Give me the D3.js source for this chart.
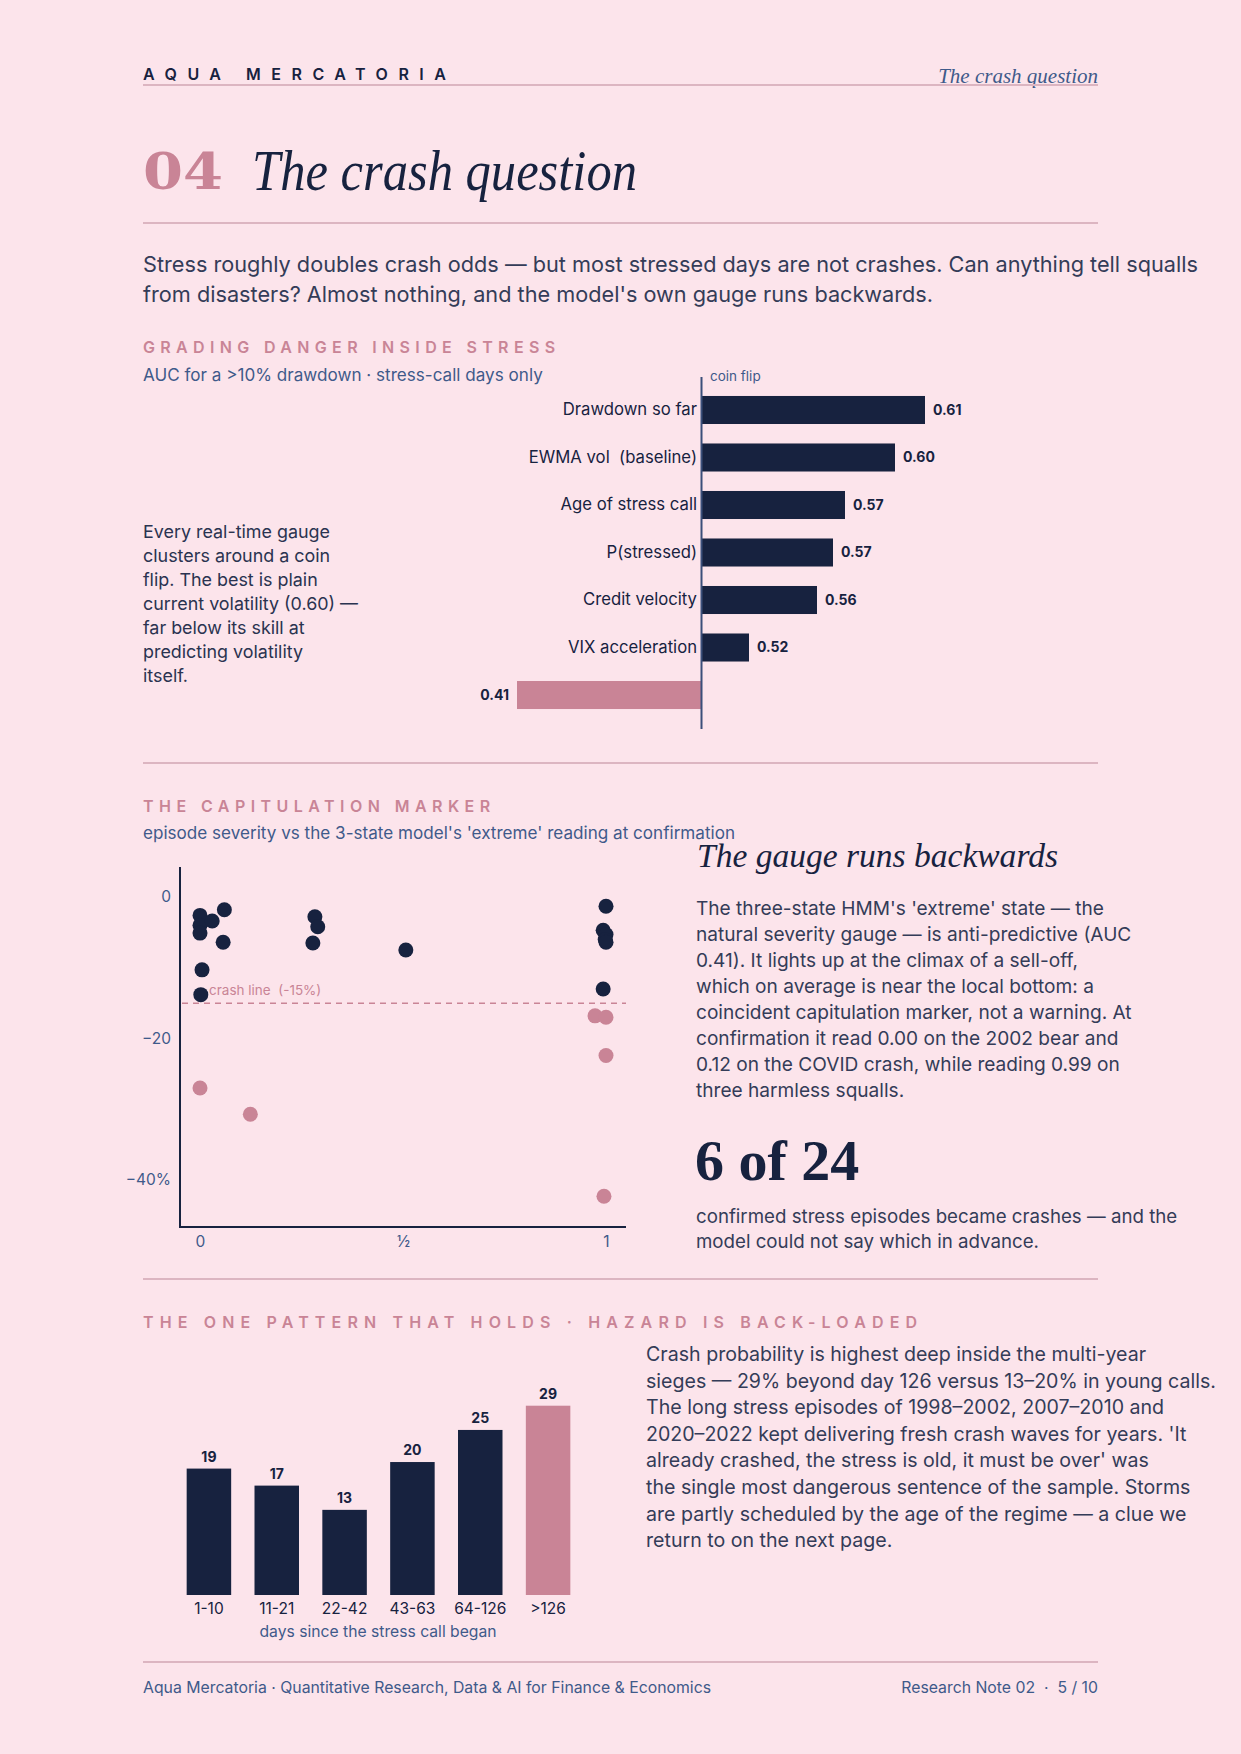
<!DOCTYPE html>
<html>
<head>
<meta charset="utf-8">
<script src="https://cdn.jsdelivr.net/npm/d3@7"></script>
<style>
  body { margin: 0; background: #fce4eb; }
  svg { display: block; font-family: Inter, "Noto Sans", sans-serif; }
</style>
</head>
<body>
<svg id="page" width="1241" height="1754"></svg>
<script>
// ---- data ----
var aucLabels = ['Drawdown so far', 'EWMA vol  (baseline)', 'Age of stress call', 'P(stressed)', 'Credit velocity', 'VIX acceleration', ''];
var aucValues = [0.612, 0.597, 0.572, 0.566, 0.558, 0.524, 0.408];

// 'extreme' state reading at confirmation vs episode severity (%)
var extremeReading = [0.00, 0.00, 0.00, 0.03, 0.06, 0.057, 0.005, 0.002, 0.283, 0.29, 0.278, 0.507, 1.00, 0.993, 1.00, 0.998, 1.00, 0.993,
                      0.973, 1.00, 1.00, 0.00, 0.124, 0.995];
var severity = [-2.6, -4.0, -5.1, -3.4, -1.8, -6.4, -10.3, -13.8, -2.8, -4.2, -6.5, -7.5, -1.3, -4.7, -5.3, -6.0, -6.4, -13.0,
                -16.8, -17.0, -22.4, -27.0, -30.7, -42.3];
var crashLine = -15;
var sevTicks = [0, -20, -40];
var sevTickLabels = ['0', '\u221220', '\u221240%'];
var readTicks = [0, 0.5, 1];
var readTickLabels = ['0', '\u00bd', '1'];

var ageBuckets = ['1-10', '11-21', '22-42', '43-63', '64-126', '>126'];
var crashProb = [19.3, 16.7, 13.0, 20.3, 25.2, 28.9];

var navy = '#17223f', pink = '#c98496', blue = '#3f5a8a', ink = '#343c58', rule = '#dcb5c1';
var serif = '"Liberation Serif", "DejaVu Serif", serif';

var svg = d3.select('#page');
svg.append('rect').attr('width', 1241).attr('height', 1754).attr('fill', '#fce4eb');

function hline(y) {
    svg.append('line').attr('x1', 143).attr('x2', 1098).attr('y1', y).attr('y2', y)
        .attr('stroke', rule).attr('stroke-width', 2);
}

function lines(x, y0, dy, arr, size, color) {
    arr.forEach((t, i) => {
        svg.append('text').attr('x', x).attr('y', y0 + i * dy)
            .attr('font-size', size).attr('fill', color).text(t);
    });
}

function kicker(y, t, ls) {
    svg.append('text').attr('x', 143).attr('y', y)
        .attr('font-size', 16).attr('font-weight', 600)
        .attr('letter-spacing', ls).attr('fill', pink).text(t);
}

// ---- header ----
svg.append('text').attr('x', 143).attr('y', 80)
    .attr('font-size', 16).attr('font-weight', 600).attr('letter-spacing', 10.5)
    .attr('fill', navy).text('AQUA MERCATORIA');
svg.append('text').attr('x', 1098).attr('y', 83).attr('text-anchor', 'end')
    .style('font-family', serif).style('font-style', 'italic')
    .attr('font-size', 21).attr('fill', blue).text('The crash question');
hline(85);

svg.append('text').attr('x', 143).attr('y', 189)
    .style('font-family', '"DejaVu Serif", serif').attr('font-weight', 'bold')
    .attr('font-size', 50).attr('fill', pink)
    .attr('textLength', 80).attr('lengthAdjust', 'spacingAndGlyphs').text('04');
svg.append('text').attr('x', 252).attr('y', 190)
    .style('font-family', serif).style('font-style', 'italic')
    .attr('font-size', 57).attr('fill', navy)
    .attr('textLength', 385).attr('lengthAdjust', 'spacingAndGlyphs').text('The crash question');
hline(223);

lines(143, 272, 30, [
    'Stress roughly doubles crash odds \u2014 but most stressed days are not crashes. Can anything tell squalls',
    "from disasters? Almost nothing, and the model's own gauge runs backwards."
], 21.7, ink);

// ---- section 1: AUC bars ----
kicker(353, 'GRADING DANGER INSIDE STRESS', 5.35);
svg.append('text').attr('x', 143).attr('y', 381).attr('font-size', 17.1).attr('fill', blue)
    .text('AUC for a >10% drawdown \u00b7 stress-call days only');

var x1 = d3.scaleLinear().domain([0.40, 0.65]).range([501, 1001]);
var y1 = d3.scaleBand().domain(d3.range(aucLabels.length)).range([376.5, 728.5]).padding(0.41);

var g1 = svg.append('g');
g1.selectAll('rect').data(aucValues).enter().append('rect')
    .attr('x', d => Math.min(x1(d), x1(0.5)))
    .attr('y', (d, i) => y1(i))
    .attr('width', d => Math.abs(x1(d) - x1(0.5)))
    .attr('height', y1.bandwidth())
    .attr('fill', d => d < 0.5 ? pink : navy);

g1.selectAll('.val').data(aucValues).enter().append('text')
    .attr('class', 'val')
    .attr('x', d => d < 0.5 ? x1(d) - 8 : x1(d) + 8)
    .attr('y', (d, i) => y1(i) + y1.bandwidth() / 2)
    .attr('dy', '0.35em')
    .attr('text-anchor', d => d < 0.5 ? 'end' : 'start')
    .attr('font-size', 14).attr('font-weight', 700).attr('fill', navy)
    .text(d => d.toFixed(2));

var ax1 = g1.append('g').attr('transform', 'translate(' + x1(0.5) + ',0)')
    .call(d3.axisLeft(y1).tickSize(0).tickSizeOuter(0).tickPadding(4).tickFormat(i => aucLabels[i]));
ax1.attr('font-family', null);
ax1.select('.domain').attr('stroke', '#3b4f7a').attr('stroke-width', 2);
ax1.selectAll('text').attr('font-size', 16.7).attr('fill', navy).style('white-space', 'pre');

svg.append('text').attr('x', x1(0.5) + 9).attr('y', 381).attr('font-size', 13.5).attr('fill', blue).text('coin flip');

lines(143, 538, 24, [
    'Every real-time gauge',
    'clusters around a coin',
    'flip. The best is plain',
    'current volatility (0.60) \u2014',
    'far below its skill at',
    'predicting volatility',
    'itself.'
], 17.9, '#2a3350');

hline(763);

// ---- section 2: scatter ----
kicker(812, 'THE CAPITULATION MARKER', 5.45);
svg.append('text').attr('x', 143).attr('y', 839).attr('font-size', 17.1).attr('fill', blue)
    .text("episode severity vs the 3-state model's 'extreme' reading at confirmation");

var x2 = d3.scaleLinear().domain([0, 1]).range([200, 606]);
var y2 = d3.scaleLinear().domain([0, -40]).range([897, 1180]);

var g2 = svg.append('g');
g2.append('line').attr('x1', 180).attr('x2', 180).attr('y1', 867).attr('y2', 1228)
    .attr('stroke', navy).attr('stroke-width', 2);
g2.append('line').attr('x1', 179).attr('x2', 626).attr('y1', 1227).attr('y2', 1227)
    .attr('stroke', navy).attr('stroke-width', 2);

var ay2 = g2.append('g').attr('transform', 'translate(180,0)')
    .call(d3.axisLeft(y2).tickValues(sevTicks).tickSize(0).tickPadding(9)
        .tickFormat((d, i) => sevTickLabels[i]));
ay2.attr('font-family', null);
ay2.select('.domain').remove();
ay2.selectAll('text').attr('font-size', 15.5).attr('fill', blue);

var ax2 = g2.append('g').attr('transform', 'translate(0,1227)')
    .call(d3.axisBottom(x2).tickValues(readTicks).tickSize(0).tickPadding(9)
        .tickFormat((d, i) => readTickLabels[i]));
ax2.attr('font-family', null);
ax2.select('.domain').remove();
ax2.selectAll('text').attr('font-size', 15.5).attr('fill', blue);

g2.append('line').attr('x1', 182).attr('x2', 626)
    .attr('y1', y2(crashLine)).attr('y2', y2(crashLine))
    .attr('stroke', pink).attr('stroke-width', 1.5).attr('stroke-dasharray', '6,5');
g2.append('text').attr('x', 209).attr('y', y2(crashLine) - 8)
    .attr('font-size', 13.5).attr('fill', pink).style('white-space', 'pre').text('crash line  (-15%)');

g2.selectAll('circle').data(severity).enter().append('circle')
    .attr('cx', (d, i) => x2(extremeReading[i]))
    .attr('cy', d => y2(d))
    .attr('r', 7.5)
    .attr('fill', d => d < crashLine ? pink : navy);

svg.append('text').attr('x', 697).attr('y', 867)
    .style('font-family', serif).style('font-style', 'italic')
    .attr('font-size', 33).attr('fill', navy)
    .attr('textLength', 361).attr('lengthAdjust', 'spacingAndGlyphs').text('The gauge runs backwards');

lines(696, 915, 26, [
    "The three-state HMM's 'extreme' state \u2014 the",
    'natural severity gauge \u2014 is anti-predictive (AUC',
    '0.41). It lights up at the climax of a sell-off,',
    'which on average is near the local bottom: a',
    'coincident capitulation marker, not a warning. At',
    'confirmation it read 0.00 on the 2002 bear and',
    '0.12 on the COVID crash, while reading 0.99 on',
    'three harmless squalls.'
], 19.1, ink);

svg.append('text').attr('x', 695).attr('y', 1180)
    .style('font-family', serif).attr('font-weight', 'bold')
    .attr('font-size', 58).attr('fill', navy).text('6 of 24');

lines(696, 1223, 25, [
    'confirmed stress episodes became crashes \u2014 and the',
    'model could not say which in advance.'
], 18.7, ink);

hline(1279);

// ---- section 3: hazard by age ----
kicker(1328, 'THE ONE PATTERN THAT HOLDS \u00b7 HAZARD IS BACK-LOADED', 6.15);

var x3 = d3.scaleBand().domain(ageBuckets).range([175, 582]).paddingInner(0.344).paddingOuter(0.172);
var y3 = d3.scaleLinear().domain([0, 30]).range([1595, 1398.5]);

var g3 = svg.append('g');
g3.selectAll('rect').data(crashProb).enter().append('rect')
    .attr('x', (d, i) => x3(ageBuckets[i]))
    .attr('y', d => y3(d))
    .attr('width', x3.bandwidth())
    .attr('height', d => y3(0) - y3(d))
    .attr('fill', (d, i) => i === ageBuckets.length - 1 ? pink : navy);

g3.selectAll('.val').data(crashProb).enter().append('text')
    .attr('class', 'val')
    .attr('x', (d, i) => x3(ageBuckets[i]) + x3.bandwidth() / 2)
    .attr('y', d => y3(d) - 7)
    .attr('text-anchor', 'middle')
    .attr('font-size', 14).attr('font-weight', 700).attr('fill', navy)
    .text(d => Math.round(d));

var ax3 = g3.append('g').attr('transform', 'translate(0,1595)')
    .call(d3.axisBottom(x3).tickSize(0).tickPadding(8));
ax3.attr('font-family', null);
ax3.select('.domain').remove();
ax3.selectAll('text').attr('font-size', 15.5).attr('fill', navy);

svg.append('text').attr('x', 378).attr('y', 1637).attr('text-anchor', 'middle')
    .attr('font-size', 15.7).attr('fill', blue).text('days since the stress call began');

lines(646, 1361, 26.6, [
    'Crash probability is highest deep inside the multi-year',
    'sieges \u2014 29% beyond day 126 versus 13\u201320% in young calls.',
    'The long stress episodes of 1998\u20132002, 2007\u20132010 and',
    "2020\u20132022 kept delivering fresh crash waves for years. 'It",
    "already crashed, the stress is old, it must be over' was",
    'the single most dangerous sentence of the sample. Storms',
    'are partly scheduled by the age of the regime \u2014 a clue we',
    'return to on the next page.'
], 19.6, ink);

// ---- footer ----
hline(1662);
svg.append('text').attr('x', 143).attr('y', 1693).attr('font-size', 15.8).attr('fill', blue)
    .text('Aqua Mercatoria \u00b7 Quantitative Research, Data & AI for Finance & Economics');
svg.append('text').attr('x', 1098).attr('y', 1693).attr('text-anchor', 'end')
    .attr('font-size', 15.8).attr('fill', blue).style('white-space', 'pre')
    .text('Research Note 02  \u00b7  5 / 10');
</script>
</body>
</html>
